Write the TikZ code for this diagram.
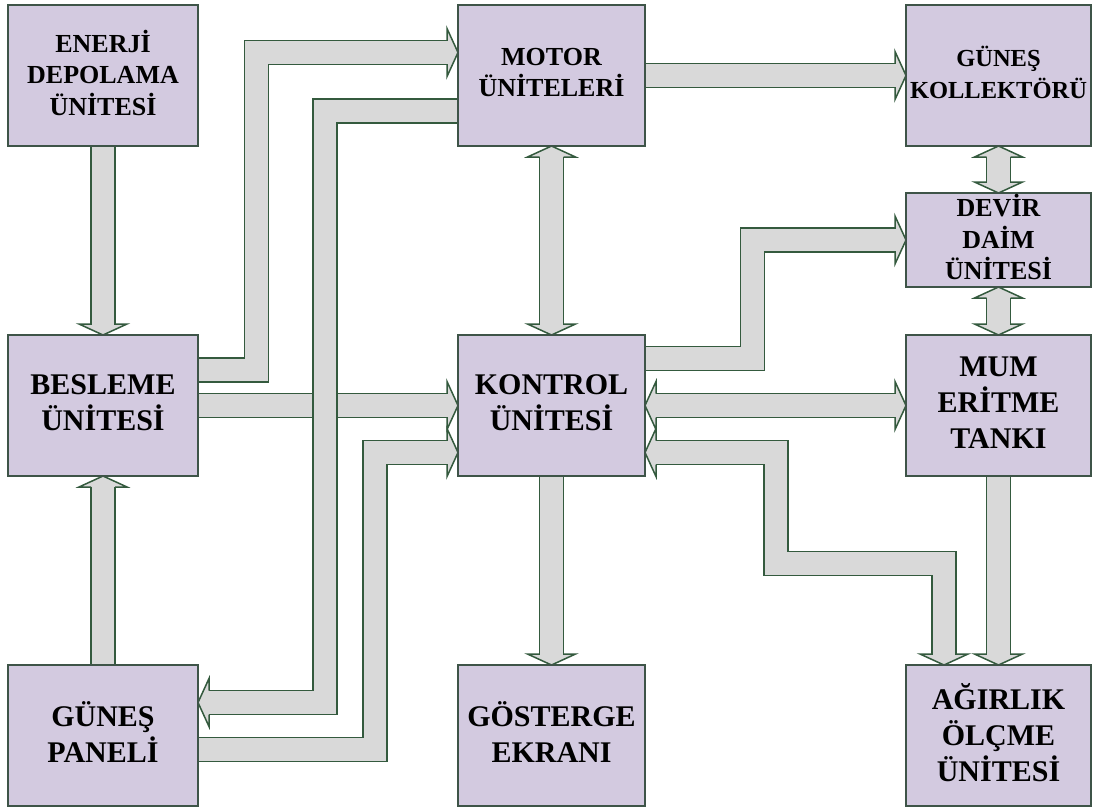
\documentclass[tikz,border=0pt]{standalone}
\usepackage{fontspec}
\setmainfont{Liberation Serif}
\usetikzlibrary{calc,backgrounds}
\definecolor{boxfill}{RGB}{211,202,224}
\definecolor{boxline}{RGB}{62,84,72}
\definecolor{arrfill}{RGB}{217,217,217}
\definecolor{arrline}{RGB}{52,90,62}
\tikzset{
  unit/.style={draw=boxline, fill=boxfill, line width=1.5pt, anchor=north west,
    inner sep=0pt, outer sep=0pt, align=center, text depth=6pt,
    font=\bfseries\fontsize{30}{36}\selectfont},
  smalltext/.style={font=\bfseries\fontsize{26}{31.5}\selectfont},
  tinytext/.style={font=\bfseries\fontsize{24.5}{31.5}\selectfont},
  shaftout/.style={draw=arrline, line width=25.5pt, line join=miter},
  shaftin/.style={draw=arrfill, line width=22.5pt, line join=miter},
}
\newcommand\bshaft[1]{\draw[shaftout] #1; \draw[shaftin] #1;}
\newcommand\bhead[2]{%
  \fill[arrfill, shift={#1}, rotate=#2] (-11,-12.75)--(-11,-24)--(0,0)--(-11,24)--(-11,12.75)--cycle;
  \draw[arrline, line width=1.5pt, line join=miter, shift={#1}, rotate=#2] (-11,-12)--(-11,-24)--(0,0)--(-11,24)--(-11,12);}
\begin{document}
\begin{tikzpicture}[x=1pt,y=-1pt]
\useasboundingbox (0,0) rectangle (1099,807);
% boxes
\node[unit, smalltext, minimum width=190pt, minimum height=141pt] (ener) at (8,5) {ENERJİ\\DEPOLAMA\\ÜNİTESİ};
\node[unit, smalltext, minimum width=187pt, minimum height=141pt] (motor) at (458,5) {MOTOR\\ÜNİTELERİ};
\node[unit, tinytext, minimum width=185pt, minimum height=141pt] (koll) at (906,5) {GÜNEŞ\\KOLLEKTÖRÜ};
\node[unit, smalltext, minimum width=185pt, minimum height=94pt] (devir) at (906,193) {DEVİR\\DAİM\\ÜNİTESİ};
\node[unit, minimum width=190pt, minimum height=141pt] (besl) at (8,335) {BESLEME\\ÜNİTESİ};
\node[unit, minimum width=187pt, minimum height=141pt] (kont) at (458,335) {KONTROL\\ÜNİTESİ};
\node[unit, minimum width=185pt, minimum height=141pt] (mum) at (906,335) {MUM\\ERİTME\\TANKI};
\node[unit, minimum width=190pt, minimum height=141pt] (panel) at (8,665) {GÜNEŞ\\PANELİ};
\node[unit, minimum width=187pt, minimum height=141pt] (gost) at (458,665) {GÖSTERGE\\EKRANI};
\node[unit, minimum width=185pt, minimum height=141pt] (agir) at (906,665) {AĞIRLIK\\ÖLÇME\\ÜNİTESİ};
% arrow tips
\coordinate (t3) at ($(motor.west)+(0,-23)$);
\coordinate (t4) at ($(panel.east)+(0,-33)$);
\coordinate (t6) at ($(kont.west)+(0,47)$);
\coordinate (t13a) at ($(kont.east)+(0,47)$);
\coordinate (t13b) at ($(agir.north)+(-54.5,0)$);
\begin{scope}[on background layer]
\fill[white] (0,0) rectangle (1099,807);
% ENERJI -> BESLEME
\bhead{(besl.north)}{-90}
\bshaft{(ener.south) -- ($(besl.north)+(0,-10.5)$)}
% PANEL -> BESLEME
\bhead{(besl.south)}{90}
\bshaft{(panel.north) -- ($(besl.south)+(0,10.5)$)}
% BESLEME -> MOTOR
\bhead{(t3)}{0}
\bshaft{($(besl.east)+(0,-35.5)$) -- ++(58.5,0) |- ($(t3)+(-10.5,0)$)}
% BESLEME -> KONTROL
\bhead{(kont.west)}{0}
\bshaft{(besl.east) -- ($(kont.west)+(-10.5,0)$)}
% MOTOR -> PANEL
\bhead{(t4)}{180}
\bshaft{($(motor.west)+(0,35.5)$) -| ($(t4)+(127,0)$) -- ($(t4)+(10.5,0)$)}
% PANEL -> KONTROL
\bhead{(t6)}{0}
\bshaft{($(panel.east)+(0,14)$) -| ($(t6)+(-83,0)$) -- ($(t6)+(-10.5,0)$)}
% MOTOR <-> KONTROL
\bhead{(motor.south)}{90}
\bhead{(kont.north)}{-90}
\bshaft{($(motor.south)+(0,10.5)$) -- ($(kont.north)+(0,-10.5)$)}
% MOTOR -> KOLLEKTOR
\bhead{(koll.west)}{0}
\bshaft{(motor.east) -- ($(koll.west)+(-10.5,0)$)}
% KOLLEKTOR <-> DEVIR
\bhead{(koll.south)}{90}
\bhead{(devir.north)}{-90}
\bshaft{($(koll.south)+(0,10.5)$) -- ($(devir.north)+(0,-10.5)$)}
% DEVIR <-> MUM
\bhead{(devir.south)}{90}
\bhead{(mum.north)}{-90}
\bshaft{($(devir.south)+(0,10.5)$) -- ($(mum.north)+(0,-10.5)$)}
% KONTROL -> DEVIR
\bhead{(devir.west)}{0}
\bshaft{($(kont.east)+(0,-47)$) -| ($(devir.west)+(-153.5,0)$) -- ($(devir.west)+(-10.5,0)$)}
% KONTROL <-> MUM
\bhead{(kont.east)}{180}
\bhead{(mum.west)}{0}
\bshaft{($(kont.east)+(10.5,0)$) -- ($(mum.west)+(-10.5,0)$)}
% KONTROL <-> AGIRLIK
\bhead{(t13a)}{180}
\bhead{(t13b)}{-90}
\bshaft{($(t13a)+(10.5,0)$) -| ($(t13a)+(131,111)$) -| ($(t13b)+(0,-10.5)$)}
% MUM -> AGIRLIK
\bhead{(agir.north)}{-90}
\bshaft{(mum.south) -- ($(agir.north)+(0,-10.5)$)}
% KONTROL -> GOSTERGE
\bhead{(gost.north)}{-90}
\bshaft{(kont.south) -- ($(gost.north)+(0,-10.5)$)}
\end{scope}
\end{tikzpicture}
\end{document}
